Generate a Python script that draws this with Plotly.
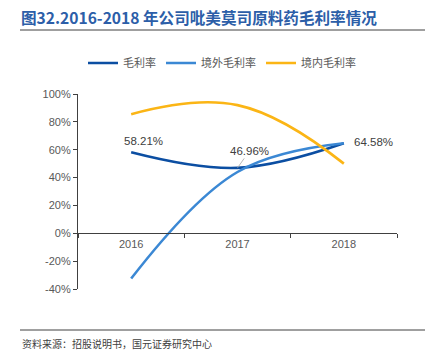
import plotly.graph_objects as go

years = ["2016", "2017", "2018"]
gross = [58.21, 46.96, 64.58]
overseas = [-32.5, 44.0, 64.6]
domestic = [85.5, 92.0, 50.0]
y_ticks = [-40, -20, 0, 20, 40, 60, 80, 100]
y_labels = [f"{v}%" for v in y_ticks]

W, H = 438, 355
L, R, T, B = 78, 41, 94, 66
pw, ph = W - L - R, H - T - B
ymin, ymax = -40, 100

def px(x):
    return (x - L) / pw

def py(y):
    return (H - B - y) / ph

font_cjk = "Noto Sans CJK SC, Liberation Sans, Arial, sans-serif"

fig = go.Figure()
fig.add_trace(go.Scatter(x=years, y=gross, name="毛利率", mode="lines",
                         line=dict(color="#0b4ea2", width=2.6, shape="spline", smoothing=1.1)))
fig.add_trace(go.Scatter(x=years, y=overseas, name="境外毛利率", mode="lines",
                         line=dict(color="#3b88d4", width=2.6, shape="spline", smoothing=1.1)))
fig.add_trace(go.Scatter(x=years, y=domestic, name="境内毛利率", mode="lines",
                         line=dict(color="#fbb515", width=2.6, shape="spline", smoothing=1.2)))

zero_pos = (0 - ymin) / (ymax - ymin)

fig.update_layout(
    width=W, height=H,
    margin=dict(l=L, r=R, t=T, b=B, autoexpand=False),
    plot_bgcolor="white", paper_bgcolor="white",
    font=dict(family=font_cjk, size=11, color="#595959"),
    showlegend=True,
    legend=dict(orientation="h", x=px(222), xanchor="center", y=py(63), yanchor="middle",
                font=dict(size=11, color="#595959"), itemwidth=30, tracegroupgap=0),
    xaxis=dict(type="category", range=[-0.5, 2.5], showgrid=False,
               showline=True, linecolor="#404040", linewidth=1.2,
               ticks="outside", tickson="boundaries", ticklen=4, tickcolor="#404040",
               anchor="free", position=zero_pos, zeroline=False,
               tickfont=dict(family="Liberation Sans, Arial, sans-serif", size=11, color="#595959")),
    yaxis=dict(range=[ymin, ymax], tickvals=y_ticks, ticktext=y_labels, showgrid=False,
               showline=True, linecolor="#404040", linewidth=1.2, zeroline=False,
               ticks="outside", ticklen=4, tickcolor="#404040",
               tickfont=dict(family="Liberation Sans, Arial, sans-serif", size=11, color="#595959")),
)

ann_font = dict(family="Liberation Sans, Arial, sans-serif", size=11.5, color="#404040")
fig.add_annotation(xref="x", yref="y", x=0, y=gross[0], text=f"{gross[0]:.2f}%", showarrow=False,
                   xshift=12, yshift=11, font=ann_font)
fig.add_annotation(xref="x", yref="y", x=1, y=gross[1], text=f"{gross[1]:.2f}%", showarrow=True,
                   arrowhead=0, arrowwidth=0.8, arrowcolor="#a6a6a6", ax=12, ay=-17,
                   font=ann_font)
fig.add_annotation(xref="x", yref="y", x=2, y=gross[2], text=f"{gross[2]:.2f}%", showarrow=False,
                   xanchor="left", xshift=8, yshift=1, font=ann_font)

fig.add_annotation(xref="paper", yref="paper", x=px(19), y=py(17), xanchor="left", yanchor="middle",
                   text="<b>图32.2016-2018 年公司吡美莫司原料药毛利率情况</b>", showarrow=False,
                   font=dict(family=font_cjk, size=15.6, color="#2c5ea8"))
fig.add_shape(type="line", xref="paper", yref="paper", x0=px(20), x1=px(425), y0=py(30), y1=py(30),
              line=dict(color="#404040", width=1))
fig.add_shape(type="line", xref="paper", yref="paper", x0=px(20), x1=px(425), y0=py(330), y1=py(330),
              line=dict(color="#404040", width=1))
fig.add_annotation(xref="paper", yref="paper", x=px(20), y=py(343), xanchor="left", yanchor="middle",
                   text="资料来源：招股说明书，国元证券研究中心", showarrow=False,
                   font=dict(family=font_cjk, size=10, color="#404040"))

fig.write_html("out.html", config={"displayModeBar": False},
               post_script="document.body.style.margin='0';document.body.style.padding='0';")
